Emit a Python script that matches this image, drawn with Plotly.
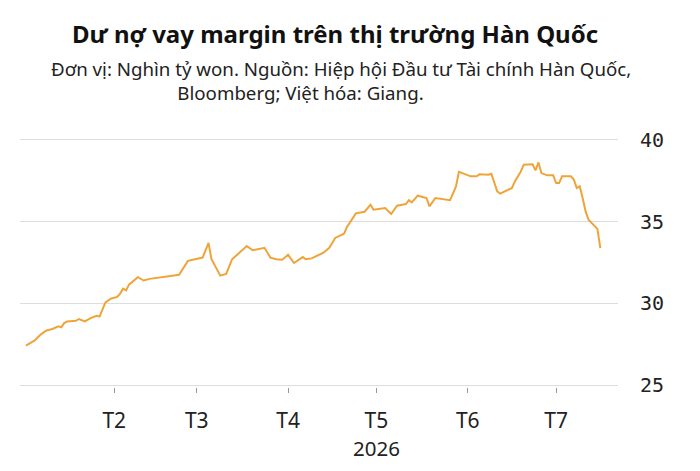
import plotly.graph_objects as go

# Margin loans on the Korean market, thousand billion won
dates = [
    "2026-01-02", "2026-01-03", "2026-01-05", "2026-01-07", "2026-01-09", "2026-01-11",
    "2026-01-13", "2026-01-14", "2026-01-15", "2026-01-16", "2026-01-19", "2026-01-20",
    "2026-01-22", "2026-01-24", "2026-01-26", "2026-01-27", "2026-01-28", "2026-01-29",
    "2026-01-31", "2026-02-02", "2026-02-03", "2026-02-04", "2026-02-05", "2026-02-06",
    "2026-02-09", "2026-02-11", "2026-02-13", "2026-02-22", "2026-02-23", "2026-02-26",
    "2026-03-03", "2026-03-05", "2026-03-06", "2026-03-09", "2026-03-11", "2026-03-13",
    "2026-03-16", "2026-03-18", "2026-03-20", "2026-03-24", "2026-03-26", "2026-03-28",
    "2026-03-30", "2026-04-01", "2026-04-03", "2026-04-06", "2026-04-07", "2026-04-09",
    "2026-04-13", "2026-04-15", "2026-04-17", "2026-04-20", "2026-04-21", "2026-04-24",
    "2026-04-27", "2026-04-29", "2026-04-30", "2026-05-04", "2026-05-06", "2026-05-08",
    "2026-05-11", "2026-05-12", "2026-05-13", "2026-05-15", "2026-05-18", "2026-05-19",
    "2026-05-21", "2026-05-25", "2026-05-26", "2026-05-28", "2026-05-29", "2026-06-02",
    "2026-06-04", "2026-06-05", "2026-06-08", "2026-06-09", "2026-06-11", "2026-06-12",
    "2026-06-15", "2026-06-16", "2026-06-17", "2026-06-19", "2026-06-20", "2026-06-23",
    "2026-06-24", "2026-06-25", "2026-06-26", "2026-06-28", "2026-06-30", "2026-07-01",
    "2026-07-02", "2026-07-03", "2026-07-06", "2026-07-07", "2026-07-08", "2026-07-09",
    "2026-07-10", "2026-07-11", "2026-07-12", "2026-07-14", "2026-07-15", "2026-07-16",
]
margin_debt = [
    27.42, 27.52, 27.74, 28.10, 28.35, 28.44,
    28.60, 28.54, 28.80, 28.90, 28.94, 29.05,
    28.90, 29.10, 29.25, 29.20, 29.60, 30.06,
    30.30, 30.40, 30.60, 30.90, 30.80, 31.15,
    31.60, 31.40, 31.50, 31.70, 31.75, 32.60,
    32.80, 33.70, 32.70, 31.70, 31.80, 32.70,
    33.20, 33.50, 33.25, 33.40, 32.80, 32.70,
    32.67, 32.97, 32.47, 32.83, 32.70, 32.75,
    33.10, 33.40, 34.00, 34.26, 34.67, 35.50,
    35.60, 36.03, 35.72, 35.83, 35.46, 35.97,
    36.07, 36.30, 36.17, 36.58, 36.44, 35.93,
    36.44, 36.33, 36.30, 37.15, 38.03, 37.76,
    37.76, 37.88, 37.86, 37.92, 36.84, 36.70,
    36.95, 37.05, 37.45, 38.06, 38.47, 38.50,
    38.12, 38.61, 37.96, 37.82, 37.82, 37.35,
    37.35, 37.76, 37.76, 37.56, 37.05, 37.15,
    36.44, 35.62, 35.11, 34.75, 34.55, 33.38,
]

month_ticks = ["2026-02-01", "2026-03-01", "2026-04-01", "2026-05-01", "2026-06-01", "2026-07-01"]
month_labels = ["T2", "T3", "T4", "T5", "T6", "T7"]
year_label = "2026"
y_ticks = [25, 30, 35, 40]

fig = go.Figure()
fig.add_trace(go.Scatter(
    x=dates, y=margin_debt, mode="lines",
    line=dict(color="#EFA43A", width=2),
    hoverinfo="x+y",
))

# page body has an 8px margin, so the figure is a bit smaller than the window
fig.update_layout(
    width=692, height=463,
    margin=dict(l=12, r=82, t=130, b=84),
    paper_bgcolor="white", plot_bgcolor="white",
    showlegend=False,
    font=dict(family="Noto Sans", color="#222222"),
)

fig.update_xaxes(
    range=["2025-12-31", "2026-07-22"],
    tickvals=month_ticks, ticktext=month_labels,
    ticks="outside", ticklen=5, tickcolor="#999999", tickwidth=1,
    ticklabelstandoff=10,
    showgrid=False, showline=False, zeroline=False,
    tickfont=dict(family="Noto Sans", size=21, color="#222222"),
)
fig.update_yaxes(
    range=[24.9, 40.1], side="right",
    tickvals=y_ticks,
    showgrid=True, gridcolor="#DDDDDD", gridwidth=1,
    zeroline=False, showline=False, ticks="",
    ticklabelstandoff=21,
    tickfont=dict(family="DejaVu Sans Mono", size=20, color="#222222"),
)

fig.add_annotation(
    text=year_label, xref="x", yref="paper", x=month_ticks[3], y=0, yshift=-61,
    xanchor="center", yanchor="middle", showarrow=False,
    font=dict(family="Noto Sans", size=20.5, color="#222222"),
)

fig.add_annotation(
    text="<b>Dư nợ vay margin trên thị trường Hàn Quốc</b>",
    xref="paper", yref="paper", x=(335 - 20) / 598, y=1, yshift=105,
    xanchor="center", yanchor="middle", showarrow=False,
    font=dict(family="Noto Sans", size=24, color="#111111"),
)
# second line starts further right than the first one in the original
fig.add_annotation(
    text="Đơn vị: Nghìn tỷ won. Nguồn: Hiệp hội Đầu tư Tài chính Hàn Quốc,<br>"
         + "\u00a0" * 26 + "Bloomberg; Việt hóa: Giang.",
    xref="paper", yref="paper", x=(49 - 20) / 598, y=1, yshift=58,
    xanchor="left", yanchor="middle", align="left", showarrow=False,
    font=dict(family="Noto Sans", size=18.7, color="#222222"),
)

fig.write_html("out.html")
